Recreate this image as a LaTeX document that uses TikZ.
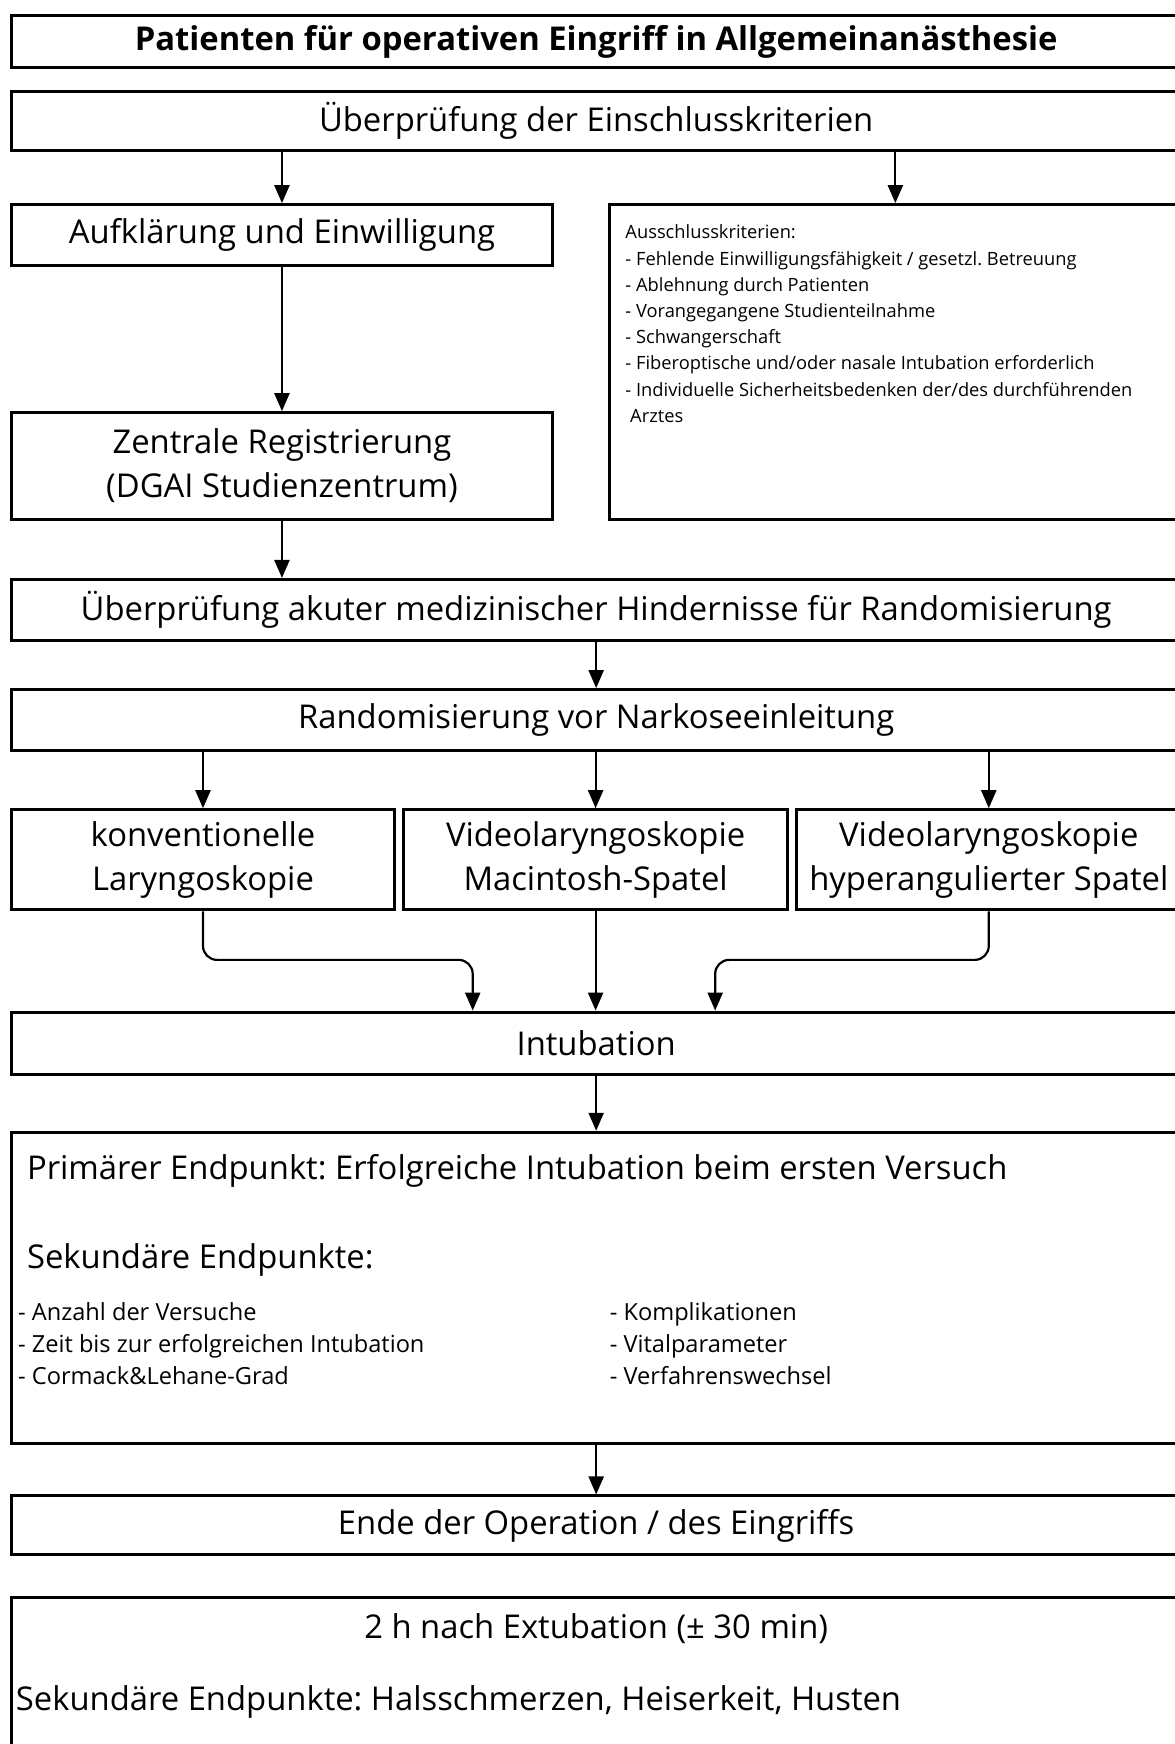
\documentclass[tikz,border=0pt]{standalone}
\usepackage{fontspec}
\setmainfont{Open Sans}
\usetikzlibrary{arrows.meta}
\newcommand\bigsz{\fontsize{16.4}{22}\selectfont}
\newcommand\midsz{\fontsize{11.8}{16}\selectfont}
\newcommand\smallsz{\fontsize{9.15}{13.1}\selectfont}
\frenchspacing
\tikzset{
  box/.style={draw, line width=1.5pt, inner sep=0pt, align=center, font=\bigsz},
  wide/.style={box, minimum width=585.3pt},
  half/.style={box, minimum width=271pt},
  third/.style={box, minimum width=192pt, minimum height=50.1pt},
  arr/.style={-{Triangle[length=9pt,width=7.5pt]}, line width=1.1pt},
}

\begin{document}
\begin{tikzpicture}[x=0.5564pt, y=-0.5564pt]
  \useasboundingbox (0,0) rectangle (1056,1568);
  % boxes, top to bottom (right edges run off the page)
  \node[wide, minimum height=26.2pt, font=\bigsz\bfseries] (titel) at (536,37.5) {Patienten für operativen Eingriff in Allgemeinanästhesie};
  \node[wide, minimum height=29.5pt] (check) at (536,108.5) {Überprüfung der Einschlusskriterien};
  \node[half, minimum height=30.6pt] (aufkl) at (253.5,211.5) {Aufklärung und Einwilligung};
  \node[box, minimum width=286pt, minimum height=157.5pt] (excl) at (805,325.5) {};
  \node[half, minimum height=53.4pt] (zentral) at (253.5,419) {Zentrale Registrierung\\(DGAI Studienzentrum)};
  \node[wide, minimum height=30.6pt] (akut) at (536,548.5) {Überprüfung akuter medizinischer Hindernisse für Randomisierung};
  \node[wide, minimum height=30.6pt] (random) at (536,647.5) {Randomisierung vor Narkoseeinleitung};
  \node[third] (konv) at (182.5,773) {konventionelle\\Laryngoskopie};
  \node[third] (vmac) at (535.5,773) {Videolaryngoskopie\\Macintosh-Spatel};
  \node[third, minimum width=192.5pt] (vhyp) at (889,773) {Videolaryngoskopie\\hyperangulierter Spatel};
  \node[wide, minimum height=31.2pt] (intub) at (536,938) {Intubation};
  \node[wide, minimum height=155.8pt] (endp) at (536,1158) {};
  \node[wide, minimum height=29.5pt] (ende) at (536,1371.5) {Ende der Operation / des Eingriffs};
  \node[wide, minimum height=113.5pt] (extub) at (536,1538) {};

  % exclusion criteria
  \node[anchor=north west, align=left, font=\smallsz, inner sep=0pt] (kriterien) at (562,202)
    {Ausschlusskriterien:\\
     - Fehlende Einwilligungsfähigkeit / gesetzl. Betreuung\\
     - Ablehnung durch Patienten\\
     - Vorangegangene Studienteilnahme\\
     - Schwangerschaft\\
     - Fiberoptische und/oder nasale Intubation erforderlich\\
     - Individuelle Sicherheitsbedenken der/des durchführenden\\
     \ Arztes};

  % endpoints
  \node[anchor=west, font=\bigsz, inner sep=0pt] (prim) at (24,1053) {Primärer Endpunkt: Erfolgreiche Intubation beim ersten Versuch};
  \node[anchor=west, font=\bigsz, inner sep=0pt] (sek) at (24,1133) {Sekundäre Endpunkte:};
  \node[anchor=north west, align=left, font=\midsz, inner sep=0pt] (listeA) at (16,1171)
    {- Anzahl der Versuche\\ - Zeit bis zur erfolgreichen Intubation\\ - Cormack\&Lehane-Grad};
  \node[anchor=north west, align=left, font=\midsz, inner sep=0pt] (listeB) at (548,1171)
    {- Komplikationen\\ - Vitalparameter\\ - Verfahrenswechsel};

  % follow-up
  \node[font=\bigsz, inner sep=0pt] (zwei) at (536,1464) {2 h nach Extubation (± 30 min)};
  \node[anchor=west, font=\bigsz, inner sep=0pt] (sek2) at (14,1530) {Sekundäre Endpunkte: Halsschmerzen, Heiserkeit, Husten};

  % connectors
  \draw[arr] (check.south -| aufkl.north) -- (aufkl.north);
  \draw[arr] (check.south -| excl.north) -- (excl.north);
  \draw[arr] (aufkl.south) -- (zentral.north);
  \draw[arr] (zentral.south) -- (zentral.south |- akut.north);
  \draw[arr] (akut.south) -- (random.north);
  \draw[arr] (random.south -| konv.north) -- (konv.north);
  \draw[arr] (random.south -| vmac.north) -- (vmac.north);
  \draw[arr] (random.south -| vhyp.north) -- (vhyp.north);
  \coordinate (kl) at (425,863);
  \coordinate (kr) at (643,863);
  \draw[arr, rounded corners=7pt] (konv.south) |- (kl) -- (kl |- intub.north);
  \draw[arr] (vmac.south) -- (vmac.south |- intub.north);
  \draw[arr, rounded corners=7pt] (vhyp.south) |- (kr) -- (kr |- intub.north);
  \draw[arr] (intub.south) -- (endp.north);
  \draw[arr] (endp.south) -- (ende.north);
\end{tikzpicture}
\end{document}
